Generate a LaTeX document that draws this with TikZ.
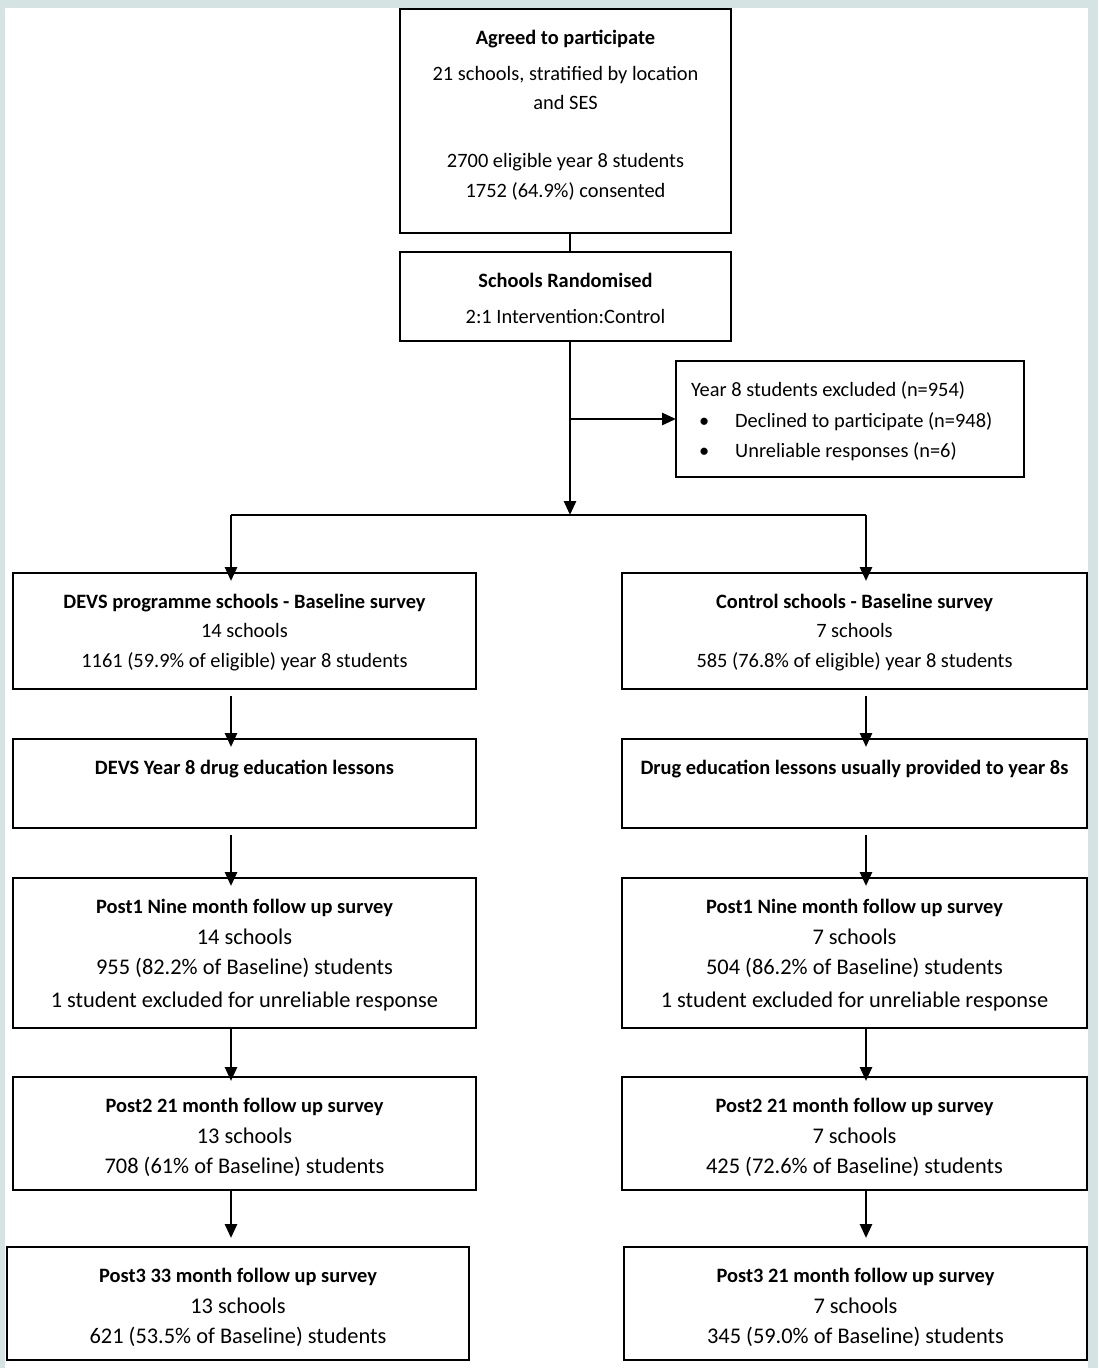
\documentclass[tikz,border=0pt]{standalone}
\usepackage{fontspec}
\setmainfont{Carlito}
\usetikzlibrary{arrows.meta}
\definecolor{framec}{RGB}{213,227,227}
\newcommand\largetxt[1]{{\fontsize{22.4}{29.5}\selectfont #1}}
\begin{document}
\begin{tikzpicture}[x=1pt,y=1pt,
  box/.style={draw,line width=2.6pt,inner sep=0pt,outer sep=0pt,anchor=north west},
  txt/.style={anchor=north,align=center,inner sep=0pt,font=\fontsize{20.4}{29.5}\selectfont},
  ltxt/.style={anchor=north west,align=left,inner sep=0pt,font=\fontsize{20.4}{30.5}\selectfont},
  arr/.style={line width=2.7pt,-{Triangle[width=12pt,length=14pt]}},
  ln/.style={line width=2.7pt}]
\fill[framec] (0,0) rectangle (1098,-1368);
\fill[white] (5,-8) rectangle (1088,-1368);
\useasboundingbox (0,0) rectangle (1098,-1368);

% column guide coordinates
\coordinate (Mx) at (570,0);
\coordinate (Lx) at (231,0);
\coordinate (Rx) at (866,0);

% top boxes
\node[box,minimum width=331pt,minimum height=224pt] (agree) at (400,-9) {};
\node[box,minimum width=331pt,minimum height=89pt] (rand) at (400,-252) {};
\node[box,minimum width=348pt,minimum height=116pt] (excl) at (676,-361) {};

\node[txt] (agreeT) at ([yshift=-14.35pt]agree.north) {\strut\textbf{Agreed to participate}\\[6.5pt]21 schools, stratified by location\\and SES\\[28.5pt]2700 eligible year 8 students\\1752 (64.9\%) consented};
\node[txt] (randT) at ([yshift=-14.35pt]rand.north) {\strut\textbf{Schools Randomised}\\[6.5pt]2:1 Intervention:Control};
\node[ltxt] (exclT) at ([xshift=15pt,yshift=-14.35pt]excl.north west) {\strut Year 8 students excluded (n=954)\\\makebox[44pt][l]{\hspace{8pt}•}Declined to participate (n=948)\\\makebox[44pt][l]{\hspace{8pt}•}Unreliable responses (n=6)};

% left column
\node[box,minimum width=463pt,minimum height=116pt] (L1) at (13,-573) {};
\node[box,minimum width=463pt,minimum height=89pt] (L2) at (13,-739) {};
\node[box,minimum width=463pt,minimum height=150pt] (L3) at (13,-878) {};
\node[box,minimum width=463pt,minimum height=113pt] (L4) at (13,-1077) {};
\node[box,minimum width=462pt,minimum height=113pt] (L5) at (7,-1247) {};

% right column
\node[box,minimum width=465pt,minimum height=116pt] (R1) at (622,-573) {};
\node[box,minimum width=465pt,minimum height=89pt] (R2) at (622,-739) {};
\node[box,minimum width=465pt,minimum height=150pt] (R3) at (622,-878) {};
\node[box,minimum width=465pt,minimum height=113pt] (R4) at (622,-1077) {};
\node[box,minimum width=463pt,minimum height=113pt] (R5) at (624,-1247) {};

% texts left
\node[txt] (L1T) at ([yshift=-14.35pt]L1.north) {\strut\textbf{DEVS programme schools - Baseline survey}\\14 schools\\1161 (59.9\% of eligible) year 8 students};
\node[txt] (L2T) at ([yshift=-14.35pt]L2.north) {\strut\textbf{DEVS Year 8 drug education lessons}};
\node[txt] (L3T) at ([yshift=-14.35pt]L3.north) {\strut\textbf{Post1 Nine month follow up survey}\\[2pt]\largetxt{14 schools}\\\largetxt{955 (82.2\% of Baseline) students}\\[3.5pt]\largetxt{1 student excluded for unreliable response}};
\node[txt] (L4T) at ([yshift=-14.35pt]L4.north) {\strut\textbf{Post2 21 month follow up survey}\\[2pt]\largetxt{13 schools}\\\largetxt{708 (61\% of Baseline) students}};
\node[txt] (L5T) at ([yshift=-14.35pt]L5.north) {\strut\textbf{Post3 33 month follow up survey}\\[2pt]\largetxt{13 schools}\\\largetxt{621 (53.5\% of Baseline) students}};

% texts right
\node[txt] (R1T) at ([yshift=-14.35pt]R1.north) {\strut\textbf{Control schools - Baseline survey}\\7 schools\\585 (76.8\% of eligible) year 8 students};
\node[txt] (R2T) at ([yshift=-14.35pt]R2.north) {\strut\textbf{Drug education lessons usually provided to year 8s}};
\node[txt] (R3T) at ([yshift=-14.35pt]R3.north) {\strut\textbf{Post1 Nine month follow up survey}\\[2pt]\largetxt{7 schools}\\\largetxt{504 (86.2\% of Baseline) students}\\[3.5pt]\largetxt{1 student excluded for unreliable response}};
\node[txt] (R4T) at ([yshift=-14.35pt]R4.north) {\strut\textbf{Post2 21 month follow up survey}\\[2pt]\largetxt{7 schools}\\\largetxt{425 (72.6\% of Baseline) students}};
\node[txt] (R5T) at ([yshift=-14.35pt]R5.north) {\strut\textbf{Post3 21 month follow up survey}\\[2pt]\largetxt{7 schools}\\\largetxt{345 (59.0\% of Baseline) students}};

% connectors top
\coordinate (split) at (570,-515);
\coordinate (branch) at (570,-419);
\coordinate (splitL) at (231,-515);
\coordinate (splitR) at (866,-515);
\draw[ln] (agree.south -| Mx) -- (rand.north -| Mx);
\draw[arr] (rand.south -| Mx) -- (split);
\draw[arr] (branch) -- (excl.west);
\draw[ln] (splitL) -- (splitR);
\draw[arr] (splitL) -- ([yshift=-8pt]L1.north -| Lx);
\draw[arr] (splitR) -- ([yshift=-8pt]R1.north -| Rx);

% connectors left
\draw[arr] ([yshift=-7pt]L1.south -| Lx) -- ([yshift=-8pt]L2.north -| Lx);
\draw[arr] ([yshift=-7pt]L2.south -| Lx) -- ([yshift=-8pt]L3.north -| Lx);
\draw[arr] (L3.south -| Lx) -- ([yshift=-4pt]L4.north -| Lx);
\draw[arr] (L4.south -| Lx) -- ([yshift=9pt]L5.north -| Lx);

% connectors right
\draw[arr] ([yshift=-7pt]R1.south -| Rx) -- ([yshift=-8pt]R2.north -| Rx);
\draw[arr] ([yshift=-7pt]R2.south -| Rx) -- ([yshift=-8pt]R3.north -| Rx);
\draw[arr] (R3.south -| Rx) -- ([yshift=-4pt]R4.north -| Rx);
\draw[arr] (R4.south -| Rx) -- ([yshift=9pt]R5.north -| Rx);
\end{tikzpicture}
\end{document}
